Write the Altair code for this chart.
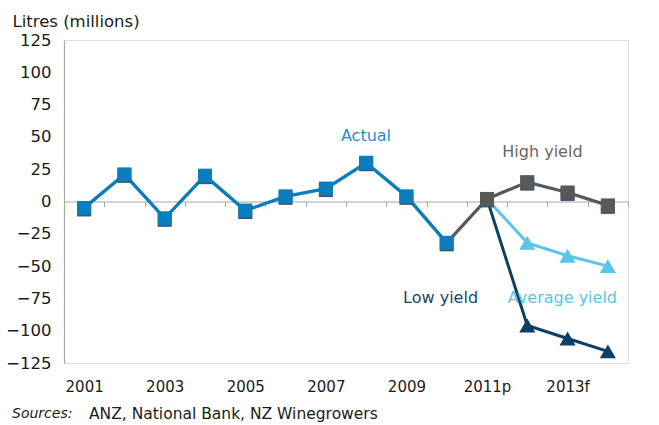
import altair as alt
import pandas as pd

# ---- data ----
years = ["2001", "2002", "2003", "2004", "2005", "2006", "2007", "2008",
         "2009", "2010", "2011p", "2012", "2013f", "2014"]
shown_labels = ["2001", "2003", "2005", "2007", "2009", "2011p", "2013f"]

actual_years = years[:10]
actual_vals = [-5, 21, -13, 20, -7, 4, 10, 30, 4, -32]

fc_years = years[10:]
high_vals = [2, 15, 7, -3]
avg_vals = [2, -32, -42, -50]
low_vals = [2, -96, -106, -116]

FONT = "DejaVu Sans"
C_ACT = "#0b7dbe"
C_HIGH = "#595959"
C_AVG = "#5bc5e8"
C_LOW = "#0c3f66"

df_act = pd.DataFrame({"year": actual_years, "v": actual_vals})
df_high_line = pd.DataFrame({"year": [actual_years[-1]] + fc_years,
                             "v": [actual_vals[-1]] + high_vals})
df_high = pd.DataFrame({"year": fc_years, "v": high_vals})
df_avg = pd.DataFrame({"year": fc_years, "v": avg_vals})
df_low = pd.DataFrame({"year": fc_years, "v": low_vals})

ann = pd.DataFrame({
    "year": ["2008", "2013f", "2010", "2013f"],
    "v": [51, 38, -75, -75],
    "label": ["Actual", "High yield", "Low yield", "Average yield"],
    "dx": [20, -5, 14, 15],
    "col": ["#1f8ecb", "#666666", "#17466b", "#5bc5e8"],
})

xs = alt.Scale(domain=years, type="band", paddingInner=0, paddingOuter=0)
ys = alt.Scale(domain=[-125, 125], nice=False, zero=False)

PLOT_H = 323
x_axis = alt.Axis(
    title=None, offset=-(PLOT_H / 2), tickBand="extent", tickSize=5,
    tickColor="#a6a6a6", domainColor="#a6a6a6", domainWidth=1.2,
    labelPadding=173, labelBaseline="top", labelAngle=0,
    labelFont=FONT, labelFontSize=15, labelColor="#1a1a1a",
    labelExpr="indexof(" + str(shown_labels) + ", datum.label) >= 0 ? datum.label : ''",
    grid=False,
)
y_axis = alt.Axis(
    title="Litres (millions)", titleAngle=0, titleAlign="left", titleBaseline="top",
    titleX=-52, titleY=-27, titleFont=FONT, titleFontSize=16.5,
    titleFontWeight="normal", titleColor="#1a1a1a",
    values=list(range(-125, 126, 25)), ticks=False, tickSize=0,
    labelPadding=13, labelFont=FONT, labelFontSize=16.5, labelColor="#1a1a1a",
    domainColor="#a6a6a6", domainWidth=1.2, grid=False,
)

def enc():
    return dict(x=alt.X("year:N", scale=xs, axis=x_axis, sort=years),
                y=alt.Y("v:Q", scale=ys, axis=y_axis))

def line(df, color, w=3.2):
    return alt.Chart(df).mark_line(color=color, strokeWidth=w).encode(**enc())

def squares(df, color):
    shadow = alt.Chart(df).mark_point(shape="square", filled=True, size=196,
                                      color="#3b5466", opacity=1).encode(
        yOffset=alt.value(1.5), **enc())
    top = alt.Chart(df).mark_point(shape="square", filled=True, size=196,
                                   color=color, opacity=1).encode(**enc())
    return shadow + top

def triangles(df, color):
    return alt.Chart(df).mark_point(shape="triangle-up", filled=True, size=260,
                                    color=color, opacity=1).encode(**enc())

layers = [
    line(df_act, C_ACT, 3.4),
    line(df_low, C_LOW, 3.0),
    line(df_avg, C_AVG, 3.0),
    line(df_high_line, C_HIGH, 3.2),
    triangles(df_low.iloc[1:], C_LOW),
    triangles(df_avg.iloc[1:], C_AVG),
    squares(df_act, C_ACT),
    squares(df_high, C_HIGH),
]

text = alt.Chart(ann).mark_text(font=FONT, fontSize=16, baseline="middle",
                                align="center").encode(
    xOffset=alt.XOffset("dx:Q", scale=None),
    text="label:N",
    color=alt.Color("col:N", scale=None),
    **enc(),
)

src_df = pd.DataFrame({"t": ["Sources:"], "u": ["ANZ, National Bank, NZ Winegrowers"]})
src1 = alt.Chart(src_df).mark_text(font=FONT, fontSize=14, fontStyle="italic",
                                   align="left", baseline="middle", color="#1a1a1a").encode(
    x=alt.value(-52), y=alt.value(374), text="t:N")
src2 = alt.Chart(src_df).mark_text(font=FONT, fontSize=15.5, align="left",
                                   baseline="middle", color="#1a1a1a").encode(
    x=alt.value(25), y=alt.value(374), text="u:N")

chart = alt.layer(*layers, text, src1, src2).properties(
    width=564, height=PLOT_H,
    autosize=alt.AutoSizeParams(type="none"),
    padding={"left": 64, "top": 40, "right": 31, "bottom": 62},
).configure_view(strokeWidth=0).configure(background="white")

chart.save("out.html", embed_options={"renderer": "svg", "actions": False})
